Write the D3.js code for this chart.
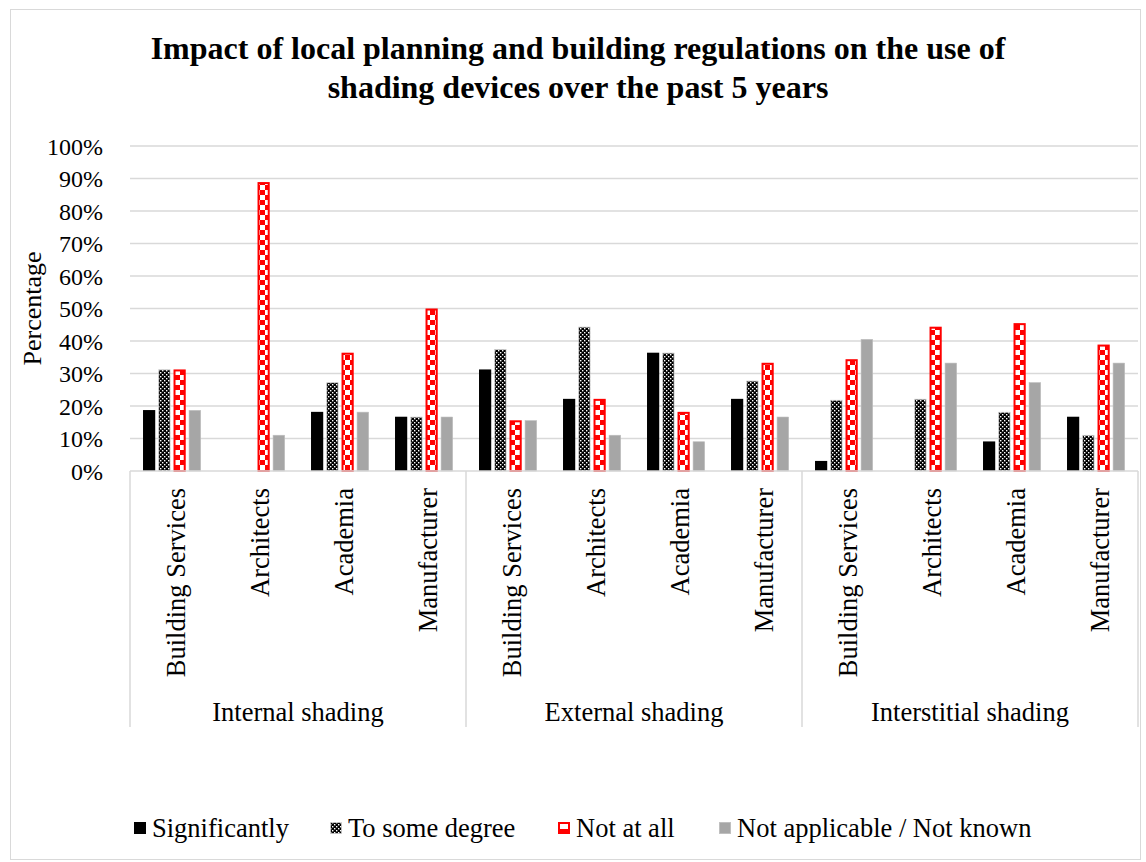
<!DOCTYPE html>
<html><head><meta charset="utf-8">
<script src="https://cdn.jsdelivr.net/npm/d3@7"></script>
<style>
html,body{margin:0;padding:0;background:#fff;}
text{font-family:"Liberation Serif","Times New Roman",serif;fill:#000;}
</style></head>
<body>
<svg id="chart" width="1146" height="862"></svg>
<script>
const title = ["Impact of local planning and building regulations on the use of", "shading devices over the past 5 years"];
const groups = ["Internal shading", "External shading", "Interstitial shading"];
const categories = ["Building Services", "Architects", "Academia", "Manufacturer"];
const seriesNames = ["Significantly", "To some degree", "Not at all", "Not applicable / Not known"];
// values in %, order: group x category
const significantly = [18.75, 0, 18.2, 16.7,   31.25, 22.2, 36.4, 22.2,   3.1, 0, 9.1, 16.7];
const toSomeDegree  = [31.25, 0, 27.3, 16.7,   37.5, 44.4, 36.4, 27.8,    21.9, 22.2, 18.2, 11.1];
const notAtAll      = [31.25, 88.9, 36.4, 50.0, 15.6, 22.2, 18.2, 33.3,   34.4, 44.4, 45.5, 38.9];
const notApplicable = [18.75, 11.1, 18.2, 16.7, 15.6, 11.1, 9.1, 16.7,    40.6, 33.3, 27.3, 33.3];
const yTicks = [0,10,20,30,40,50,60,70,80,90,100];

(function(){
const seriesValues = [significantly, toSomeDegree, notAtAll, notApplicable];

const svg = d3.select("#chart");
const defs = svg.append("defs");

const p1 = defs.append("pattern").attr("id","pSome").attr("patternUnits","userSpaceOnUse")
  .attr("width",4).attr("height",4);
p1.append("rect").attr("width",4).attr("height",4).attr("fill","#000");
p1.append("rect").attr("x",0).attr("y",0).attr("width",1.4).attr("height",1.4).attr("fill","#fff");
p1.append("rect").attr("x",2).attr("y",2).attr("width",1.4).attr("height",1.4).attr("fill","#fff");

const p2 = defs.append("pattern").attr("id","pNot").attr("patternUnits","userSpaceOnUse")
  .attr("width",10).attr("height",10);
p2.append("rect").attr("width",10).attr("height",10).attr("fill","#fff");
p2.append("rect").attr("x",0).attr("y",0).attr("width",5).attr("height",5).attr("fill","#FF0000");
p2.append("rect").attr("x",5).attr("y",5).attr("width",5).attr("height",5).attr("fill","#FF0000");

const styles = [
  {fill:"#000000", stroke:"none", sw:0},
  {fill:"url(#pSome)", stroke:"#d0d0d0", sw:0.8},
  {fill:"url(#pNot)", stroke:"#FF0000", sw:2},
  {fill:"#A6A6A6", stroke:"#bfbfbf", sw:0.6}
];

svg.append("rect").attr("x",10.5).attr("y",9.5).attr("width",1130).attr("height",850)
  .attr("fill","none").attr("stroke","#d9d9d9").attr("stroke-width",1);

svg.append("text").attr("x",578).attr("y",59).attr("text-anchor","middle")
  .style("font-size","32px").style("font-weight","bold").text(title[0]);
svg.append("text").attr("x",578).attr("y",98).attr("text-anchor","middle")
  .style("font-size","32px").style("font-weight","bold").text(title[1]);

const pLeft = 130, pRight = 1138, pTop = 146, pBottom = 471;
const keys = [];
groups.forEach(g => categories.forEach(c => keys.push(g + "|" + c)));

const x = d3.scaleBand().domain(keys).range([pLeft, pRight]).paddingInner(0.31).paddingOuter(0.155);
const xs = d3.scaleBand().domain(seriesNames).range([0, x.bandwidth()]).paddingInner(0.2);
const y = d3.scaleLinear().domain([0,100]).range([pBottom, pTop]);
const step = x.step();

svg.append("g").selectAll("line").data(yTicks.filter(t => t > 0)).join("line")
  .attr("x1",pLeft).attr("x2",pRight).attr("y1",d=>y(d)).attr("y2",d=>y(d))
  .attr("stroke","#d9d9d9").attr("stroke-width",1.5);

const yAxis = d3.axisLeft(y).tickValues(yTicks).tickFormat(d => d + "%").tickSize(0).tickPadding(0);
const ya = svg.append("g").attr("transform",`translate(103,0)`).call(yAxis);
ya.select(".domain").remove();
ya.selectAll("text").style("font-size","24px").style("font-family","Liberation Serif").attr("fill","#000").attr("dy","0.34em");

svg.append("text").attr("transform",`translate(41,${(pTop+pBottom)/2}) rotate(-90)`)
  .attr("text-anchor","middle").style("font-size","26px").text("Percentage");

seriesNames.forEach((s, si) => {
  svg.append("g").selectAll("rect").data(keys.map((k,i)=>({k, v: seriesValues[si][i]})).filter(d=>d.v>0)).join("rect")
    .attr("x", d => x(d.k) + xs(s) + styles[si].sw/2)
    .attr("y", d => y(d.v) + styles[si].sw/2)
    .attr("width", xs.bandwidth() - styles[si].sw)
    .attr("height", d => Math.max(0, pBottom - y(d.v) - styles[si].sw/2))
    .attr("fill", styles[si].fill)
    .attr("stroke", styles[si].stroke)
    .attr("stroke-width", styles[si].sw);
});

const axisG = svg.append("g");
axisG.append("line").attr("x1",pLeft).attr("x2",pRight).attr("y1",pBottom).attr("y2",pBottom)
  .attr("stroke","#d9d9d9").attr("stroke-width",1.5);
const boundaries = [0,4,8,12].map(i => pLeft + i*step);
axisG.selectAll("line.sep").data(boundaries).join("line").attr("class","sep")
  .attr("x1",d=>d).attr("x2",d=>d).attr("y1",pBottom).attr("y2",727)
  .attr("stroke","#d9d9d9").attr("stroke-width",1.5);

axisG.selectAll("text.cat").data(keys).join("text").attr("class","cat")
  .attr("transform", d => `translate(${x(d) + x.bandwidth()/2 + 4},488) rotate(-90)`)
  .attr("text-anchor","end").attr("dy","0.35em").style("font-size","26.5px")
  .text(d => d.split("|")[1]);

axisG.selectAll("text.grp").data(groups).join("text").attr("class","grp")
  .attr("x",(d,i)=> pLeft + (i*4+2)*step).attr("y",712).attr("dy","0.35em")
  .attr("text-anchor","middle").style("font-size","26.5px").text(d=>d);

const legendX = [134, 330, 558, 719];
const lg = svg.append("g");
seriesNames.forEach((s, si) => {
  const g = lg.append("g").attr("transform",`translate(${legendX[si]},828)`);
  g.append("rect").attr("x", styles[si].sw/2).attr("y",-6 + styles[si].sw/2)
    .attr("width", 12 - styles[si].sw).attr("height", 12 - styles[si].sw)
    .attr("fill", si===2 ? "#fff" : styles[si].fill).attr("stroke", styles[si].stroke).attr("stroke-width", styles[si].sw);
  if (si===2) {
    g.append("rect").attr("x",2).attr("y",1).attr("width",8).attr("height",3).attr("fill","#FF0000");
  }
  g.append("text").attr("x",18).attr("y",0).attr("dy","0.35em").style("font-size","26.5px").text(s);
});
})();
</script>
</body></html>
